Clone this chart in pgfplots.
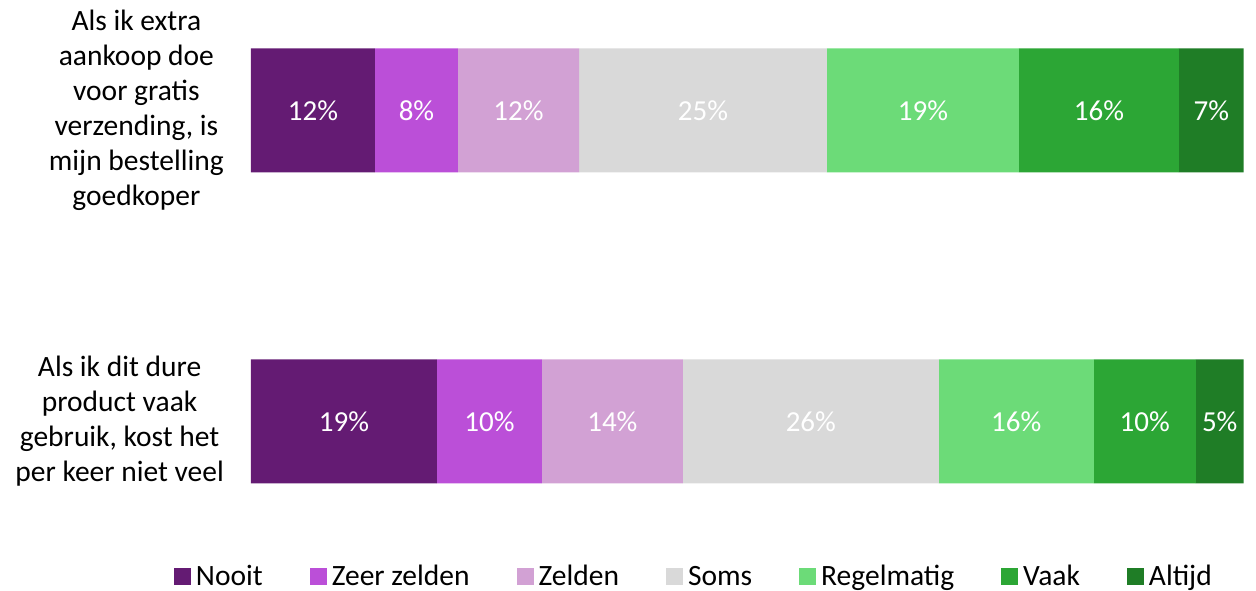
\documentclass[border=0pt]{standalone}
\usepackage{pgfplots}
\usepackage{pgfplotstable}
\pgfplotsset{compat=1.18}
\usepackage{fontspec}
\setmainfont{Carlito}
\definecolor{cNooit}{HTML}{641B73}
\definecolor{cZeer}{HTML}{BB4FD8}
\definecolor{cZelden}{HTML}{D2A1D4}
\definecolor{cSoms}{HTML}{D9D9D9}
\definecolor{cRegel}{HTML}{6CDB78}
\definecolor{cVaak}{HTML}{2CA635}
\definecolor{cAltijd}{HTML}{1F7D26}
% y=1: top bar (extra aankoop), y=0: bottom bar (dure product)
\pgfplotstableread{
x y lab
12.49 1 12
18.73 0 19
}\tNooit
\pgfplotstableread{
x y lab
8.36 1 8
10.57 0 10
}\tZeer
\pgfplotstableread{
x y lab
12.19 1 12
14.20 0 14
}\tZelden
\pgfplotstableread{
x y lab
24.97 1 25
25.78 0 26
}\tSoms
\pgfplotstableread{
x y lab
19.34 1 19
15.61 0 16
}\tRegel
\pgfplotstableread{
x y lab
16.11 1 16
10.27 0 10
}\tVaak
\pgfplotstableread{
x y lab
6.53 1 7
4.83 0 5
}\tAltijd
\begin{document}
\begin{tikzpicture}
\begin{axis}[
  name=ax,
  scale only axis,
  width=993bp, height=497.6bp,
  xbar stacked,
  bar width=124bp,
  xmin=0, xmax=100.02,
  ymin=-0.3, ymax=1.3,
  hide x axis,
  axis line style={draw=none},
  ytick={0,1},
  yticklabels={{Als ik dit dure\\product vaak\\gebruik, kost het\\per keer niet veel},
               {Als ik extra\\aankoop doe\\voor gratis\\verzending, is\\mijn bestelling\\goedkoper}},
  yticklabel style={align=center, anchor=east, inner sep=0pt, xshift=-27bp,
    font=\fontsize{29.5bp}{35bp}\selectfont},
  major tick length=0pt,
  point meta=explicit symbolic,
  nodes near coords={\pgfplotspointmeta\%},
  every node near coord/.append style={text=white, font=\fontsize{29bp}{32bp}\selectfont},
  legend columns=-1,
  legend style={draw=none, at={(0.446,-0.124)}, anchor=center,
    font=\fontsize{29.5bp}{31bp}\selectfont,
    /tikz/every odd column/.append style={column sep=3bp},
    /tikz/every even column/.append style={column sep=45bp}},
  legend image code/.code={\fill[#1] (0bp,-8.5bp) rectangle (17bp,8.5bp);},
]
\addplot[fill=cNooit, draw=none] table[x=x,y=y,meta=lab] {\tNooit};
\addplot[fill=cZeer, draw=none] table[x=x,y=y,meta=lab] {\tZeer};
\addplot[fill=cZelden, draw=none] table[x=x,y=y,meta=lab] {\tZelden};
\addplot[fill=cSoms, draw=none] table[x=x,y=y,meta=lab] {\tSoms};
\addplot[fill=cRegel, draw=none] table[x=x,y=y,meta=lab] {\tRegel};
\addplot[fill=cVaak, draw=none] table[x=x,y=y,meta=lab] {\tVaak};
\addplot[fill=cAltijd, draw=none] table[x=x,y=y,meta=lab] {\tAltijd};
\legend{Nooit, Zeer zelden, Zelden, Soms, Regelmatig, Vaak, Altijd}
\end{axis}
\pgfresetboundingbox
\path ([xshift=-251bp,yshift=-76bp]ax.south west) rectangle ([xshift=12bp,yshift=17bp]ax.north east);
\end{tikzpicture}
\end{document}
